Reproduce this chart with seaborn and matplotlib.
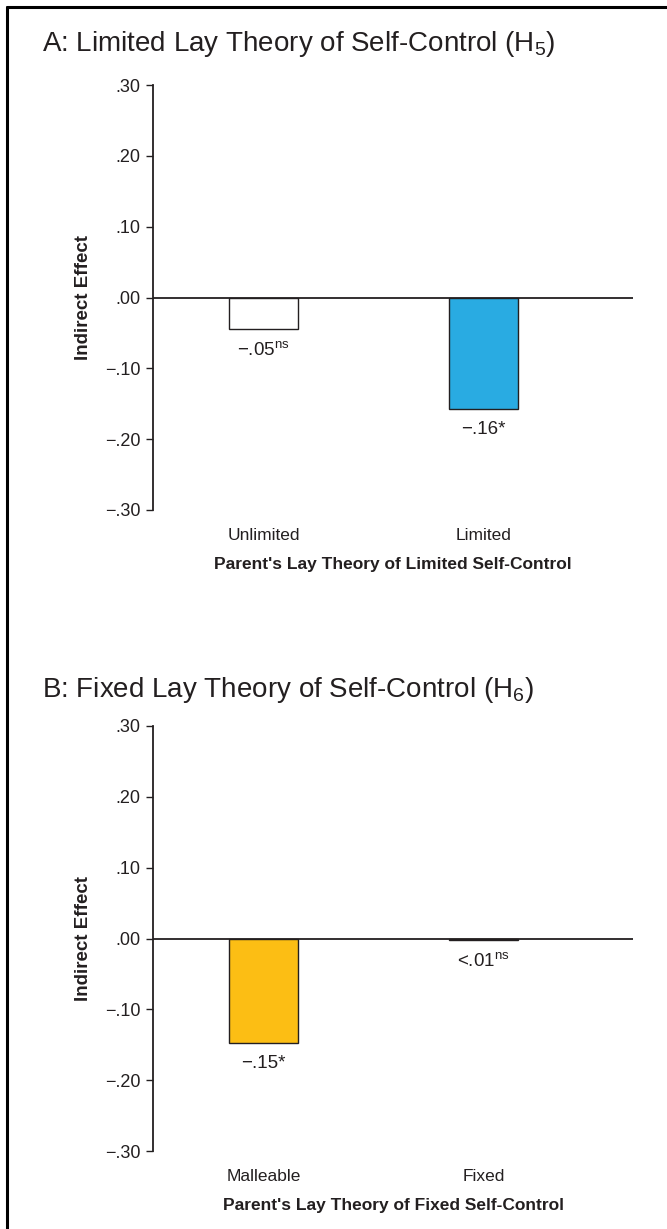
import matplotlib
matplotlib.use("Agg")
import matplotlib.pyplot as plt
import seaborn as sns
from matplotlib.lines import Line2D


# Data

panel_titles = ["A: Limited Lay Theory of Self-Control (H$_{\\mathregular{5}}$)",
                "B: Fixed Lay Theory of Self-Control (H$_{\\mathregular{6}}$)"]

cats_a = ["Unlimited", "Limited"]
vals_a = [-0.045, -0.157]
labels_a = ["\u2212.05$^{\\mathregular{ns}}$", "\u2212.16*"]
colors_a = ["#FFFFFF", "#29ABE2"]
xlabel_a = "Parent's Lay Theory of Limited Self-Control"

cats_b = ["Malleable", "Fixed"]
vals_b = [-0.147, -0.002]
labels_b = ["\u2212.15*", "<.01$^{\\mathregular{ns}}$"]
colors_b = ["#FCBE14", "#FFFFFF"]
xlabel_b = "Parent's Lay Theory of Fixed Self-Control"

yticks = [0.30, 0.20, 0.10, 0.00, -0.10, -0.20, -0.30]
ytick_labels = [".30", ".20", ".10", ".00", "\u2212.10", "\u2212.20", "\u2212.30"]


sns.set_style("white")
plt.rcParams["font.family"] = ["Liberation Sans", "DejaVu Sans"]
plt.rcParams["mathtext.fontset"] = "custom"
plt.rcParams["mathtext.rm"] = "Liberation Sans"

ink = "#231F20"

fig = plt.figure(figsize=(6.67, 12.29), dpi=100)

# axes boxes in figure fractions (left, bottom, width, height)
boxes = [
    [153 / 667, 1 - 510 / 1229, 480 / 667, 425 / 1229],
    [153 / 667, 1 - 1151 / 1229, 480 / 667, 425 / 1229],
]
title_y = [1 - 44 / 1229, 1 - 690 / 1229]

panels = [
    (cats_a, vals_a, labels_a, colors_a, xlabel_a),
    (cats_b, vals_b, labels_b, colors_b, xlabel_b),
]

for i, (cats, vals, labs, cols, xlab) in enumerate(panels):
    ax = fig.add_axes(boxes[i])
    sns.barplot(x=cats, y=vals, hue=cats, palette=cols, ax=ax, width=0.315,
                edgecolor=ink, linewidth=1.0, legend=False, saturation=1)
    ax.axhline(0, color=ink, linewidth=1.3, zorder=3)
    ax.set_xlim(-0.502, 1.68)
    ax.set_ylim(-0.30, 0.30)
    ax.set_yticks(yticks)
    ax.set_yticklabels(ytick_labels)
    ax.tick_params(axis="y", direction="out", length=5, width=1, color=ink,
                   labelsize=13, labelcolor=ink, pad=4, left=True)
    ax.tick_params(axis="x", length=0, labelsize=12.5, labelcolor=ink, pad=13)
    for side in ["top", "right", "bottom"]:
        ax.spines[side].set_visible(False)
    ax.spines["left"].set_color(ink)
    ax.spines["left"].set_linewidth(1.3)
    ax.set_ylabel("Indirect Effect", fontsize=13.5, fontweight="bold", color=ink, labelpad=9)
    ax.set_xlabel(xlab, fontsize=12.5, fontweight="bold", color=ink, labelpad=10)

    for j, (v, t) in enumerate(zip(vals, labs)):
        ax.text(j, v - 0.03, t, ha="center", va="center", fontsize=13.5, color=ink)

    fig.text(42 / 667, title_y[i], panel_titles[i], fontsize=20, color=ink,
             ha="left", va="center")

# frame lines on top and left of the figure
fig.add_artist(Line2D([7 / 667, 1], [1 - 7 / 1229, 1 - 7 / 1229], color="black",
                      linewidth=2.2, transform=fig.transFigure))
fig.add_artist(Line2D([7 / 667, 7 / 667], [0, 1 - 7 / 1229], color="black",
                      linewidth=2.2, transform=fig.transFigure))

fig.savefig("out.png", dpi=100, facecolor="white")
